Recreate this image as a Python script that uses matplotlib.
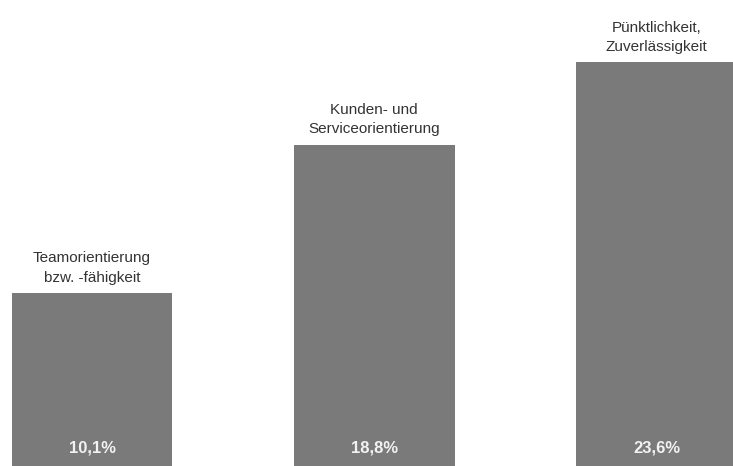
import numpy as np
import matplotlib.pyplot as plt

# Daten
kategorien = ['Teamorientierung\nbzw. -fähigkeit',
              'Kunden- und\nServiceorientierung',
              'Pünktlichkeit,\nZuverlässigkeit']
werte = [10.1, 18.8, 23.6]
wert_labels = ['10,1%', '18,8%', '23,6%']

plt.rcParams['font.family'] = ['Liberation Sans', 'DejaVu Sans']

fig = plt.figure(figsize=(7.33, 4.66), dpi=100)
ax = fig.add_axes([0, 0, 1, 1])

x = np.arange(len(werte))
bars = ax.bar(x, werte, width=0.57, color='#7a7a7b')

ax.set_xlim(-0.326, 2.271)
ax.set_ylim(0, 27.25)
ax.axis('off')

# Kategorien oberhalb der Balken
for xi, w, lab in zip(x, werte, kategorien):
    ax.annotate(lab, (xi, w), xytext=(0, 6), textcoords='offset points',
                ha='center', va='bottom', fontsize=11, color='#333333',
                linespacing=1.5)

# Werte unten im Balken
for xi, lab in zip(x, wert_labels):
    ax.annotate(lab, (xi, 0), xytext=(0, 13), textcoords='offset points',
                ha='center', va='center', fontsize=12, color='#f2f2f2',
                fontweight='bold')

fig.savefig('out.png', dpi=100)
